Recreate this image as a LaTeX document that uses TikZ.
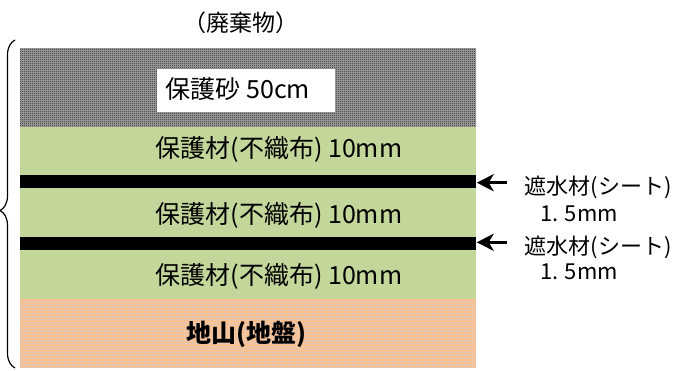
\documentclass[tikz,border=0pt]{standalone}
\usepackage{fontspec}
\setmainfont{Noto Sans CJK JP}
\usetikzlibrary{patterns,arrows.meta,decorations.pathreplacing}

\definecolor{checkgray}{HTML}{1E1E1E}
\definecolor{felt}{HTML}{C4D79B}
\definecolor{ground}{HTML}{FAC090}
\definecolor{groundline}{HTML}{DDCCC4}

\pgfdeclarepatternformonly{finecheck}{\pgfpointorigin}{\pgfqpoint{2pt}{2pt}}{\pgfqpoint{2pt}{2pt}}{%
  \pgfpathrectangle{\pgfpointorigin}{\pgfqpoint{1pt}{1pt}}%
  \pgfpathrectangle{\pgfqpoint{1pt}{1pt}}{\pgfqpoint{1pt}{1pt}}%
  \pgfusepath{fill}}
\pgfdeclarepatternformonly{groundstripes}{\pgfpointorigin}{\pgfqpoint{4pt}{3pt}}{\pgfqpoint{4pt}{3pt}}{%
  \pgfpathrectangle{\pgfpointorigin}{\pgfqpoint{4pt}{1pt}}%
  \pgfusepath{fill}}

\tikzset{
  sandlayer/.style={preaction={fill=gray!70}, pattern=finecheck, pattern color=checkgray},
  feltlayer/.style={fill=felt},
  sheetlayer/.style={fill=black},
  groundlayer/.style={preaction={fill=ground}, pattern=groundstripes, pattern color=groundline},
  layertext/.style={inner sep=0pt, font=\fontsize{25}{30}\selectfont},
  sidetext/.style={inner sep=0pt, font=\fontsize{22}{26}\selectfont},
  pointer/.style={line width=2.8pt, arrows={-Stealth[length=17pt 0, width=17pt 0, inset=5pt]}},
}

\begin{document}
\begin{tikzpicture}[x=1pt,y=1pt]
\useasboundingbox (0,0) rectangle (694,370);

\fill[sandlayer] (20, 243.3) rectangle (476, 321.7) ; % sand
\fill[feltlayer] (20, 195) rectangle (476, 243.3) ; % felt 1
\fill[sheetlayer] (20, 182.3) rectangle (476, 195) ; % sheet 1
\fill[feltlayer] (20, 132.7) rectangle (476, 182.3) ; % felt 2
\fill[sheetlayer] (20, 120) rectangle (476, 132.7) ; % sheet 2
\fill[feltlayer] (20, 70.7) rectangle (476, 120) ; % felt 3
\fill[groundlayer] (20, 1.7) rectangle (476, 70.7) ; % ground
\fill[white] (156.7, 258.3) rectangle (335, 300.7) ; % sand label box

\node[inner sep=0pt, font=\fontsize{23}{27}\selectfont] (waste) at (241, 347) {（廃棄物）};
\node[layertext] (sand) at (238, 281) {保護砂 50cm};
\node[layertext] (feltA) at (279, 221) {保護材(不織布) 10mm};
\node[layertext] (feltB) at (279, 155) {保護材(不織布) 10mm};
\node[layertext] (feltC) at (279, 93.5) {保護材(不織布) 10mm};
\node[layertext, font=\fontsize{25}{30}\selectfont\bfseries] (ground) at (246, 36) {地山(地盤)};

\node[sidetext] (sheetA) at (598, 183) {遮水材(シート)};
\node[sidetext] (sheetAt) at (579, 156) {1. 5mm};
\node[sidetext] (sheetB) at (598, 123) {遮水材(シート)};
\node[sidetext] (sheetBt) at (579, 98.5) {1. 5mm};

\coordinate (tailA) at (507, 187.3);
\coordinate (tipA) at (476.7, 187.3);
\coordinate (tailB) at (507, 127.7);
\coordinate (tipB) at (476.7, 127.7);
\draw[pointer] (tailA) -- (tipA) ;
\draw[pointer] (tailB) -- (tipB) ;

\coordinate (braceBot) at (15, 2);
\coordinate (braceTop) at (15, 330);
\draw[line width=1.2pt, decorate, decoration={brace, amplitude=15pt, aspect=0.48}] (braceBot) -- (braceTop) ;

\end{tikzpicture}
\end{document}
